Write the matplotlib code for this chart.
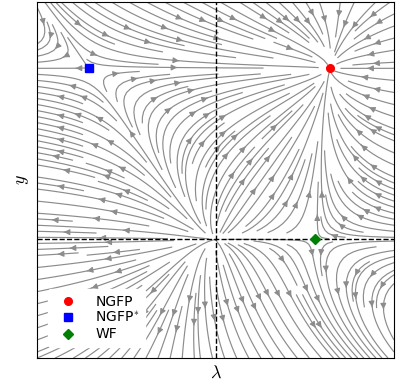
import numpy as np
import matplotlib
matplotlib.use("Agg")
import matplotlib.pyplot as plt

plt.rcParams['mathtext.fontset'] = 'cm'

# puntos fijos (lambda, y)
fp_names = ["NGFP", "NGFP$^{*}$", "WF"]
fp_lam = [0.64, -0.71, 0.56]
fp_y = [0.72, 0.72, 0.0]
fp_colors = ["red", "blue", "green"]
fp_markers = ["o", "s", "D"]

# limites de los ejes
lam_lim = [-1.0, 1.0]
y_lim = [-0.5, 1.0]

xn, xs, xw, ys = fp_lam[0], fp_lam[1], fp_lam[2], fp_y[0]
k = 1.2

# campo de flujo
lam = np.linspace(lam_lim[0], lam_lim[1], 300)
yy = np.linspace(y_lim[0], y_lim[1], 250)
X, Y = np.meshgrid(lam, yy)
Yp = np.clip(Y, 0, None)
Yn = np.clip(Y, None, 0)
P = np.where(Y >= 0, xs * (Yp / ys) ** 1.5, 0.3 * Yn)
Q = xw + (xn - xw) * Y / ys + 5.0 * Yn ** 2
U = -(X - P) * (X - Q)
V = k * Y * (ys - Y)

fig = plt.figure(figsize=(4.05, 3.85), dpi=100)
ax = fig.add_axes([0.0914, 0.070, 0.8815, 0.925])
ax.streamplot(X, Y, U, V, density=2.0, color="0.55", linewidth=0.85, arrowsize=0.85)
ax.axvline(0, color="black", ls="--", lw=1)
ax.axhline(0, color="black", ls="--", lw=1)
for i in range(len(fp_names)):
    ax.plot(fp_lam[i], fp_y[i], marker=fp_markers[i], color=fp_colors[i],
            ls="none", ms=5.5, label=fp_names[i], zorder=5)
ax.set_xlim(lam_lim)
ax.set_ylim(y_lim)
ax.set_xticks([])
ax.set_yticks([])
ax.set_xlabel(r"$\lambda$", fontsize=13)
ax.set_ylabel(r"$y$", fontsize=13)
leg = ax.legend(loc="lower left", fontsize=10, frameon=True, framealpha=1,
                edgecolor="white", handletextpad=1.0, labelspacing=0.15,
                borderaxespad=0.8)
fig.savefig("out.png", dpi=100)
